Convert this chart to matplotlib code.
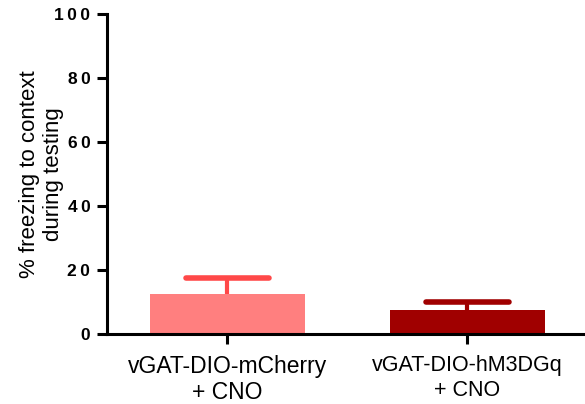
import matplotlib
matplotlib.use("Agg")
import matplotlib.pyplot as plt
from matplotlib.transforms import ScaledTranslation

# ---------------------------------------------------------
# Data
# ---------------------------------------------------------
groups = ["vGAT-DIO-mCherry\n+ CNO", "vGAT-DIO-hM3DGq\n+ CNO"]
means = [12.5, 7.5]
sems = [4.9, 2.6]
bar_colors = ["#FF7F7F", "#A00000"]
err_colors = ["#FF4848", "#A00000"]
yticks = [0, 20, 40, 60, 80, 100]

plt.rcParams["font.family"] = ["Liberation Sans", "DejaVu Sans"]

fig = plt.figure(figsize=(5.85, 4.04), dpi=100)
ax = fig.add_axes([107 / 585, 1 - 334 / 404, 1 - 107 / 585, 320 / 404])

x = list(range(len(groups)))
bar_w = 0.646
cap_half = 0.172
ax.bar(x, means, width=bar_w, color=bar_colors, zorder=2)

# upper-only error bars with rounded caps
for xi, m, s, c in zip(x, means, sems, err_colors):
    ax.plot([xi, xi], [m, m + s], color=c, lw=3, solid_capstyle="butt", zorder=3)
    ax.plot([xi - cap_half, xi + cap_half], [m + s, m + s], color=c, lw=4,
            solid_capstyle="round", zorder=3)

ax.set_xlim(-0.502, 1.49)
ax.set_ylim(0, 100)
ax.set_xticks(x)
ax.set_xticklabels(groups, fontsize=16.5, linespacing=1.15)
# second label is a touch smaller and sits slightly right of its tick
lbl2 = ax.get_xticklabels()[1]
lbl2.set_fontsize(15.5)
lbl2.set_linespacing(1.23)
lbl2.set_transform(lbl2.get_transform() +
                   ScaledTranslation(9 / 100, -1 / 100, fig.dpi_scale_trans))

ax.set_yticks(yticks)
ax.set_yticklabels(["\u2009".join(str(v)) for v in yticks], fontsize=12.5,
                   fontweight="bold")
ax.set_ylabel("% freezing to context\nduring testing", fontsize=16,
              linespacing=1.2)
ax.yaxis.set_label_coords(-0.09, 0.5)

for side in ["top", "right"]:
    ax.spines[side].set_visible(False)
for side in ["left", "bottom"]:
    ax.spines[side].set_linewidth(2.2)
    ax.spines[side].set_color("black")
ax.tick_params(axis="both", direction="out", length=7, width=2.2)
ax.tick_params(axis="x", pad=8)
ax.tick_params(axis="y", pad=5)
ax.spines["left"].set_zorder(4)

fig.savefig("out.png", dpi=100)
